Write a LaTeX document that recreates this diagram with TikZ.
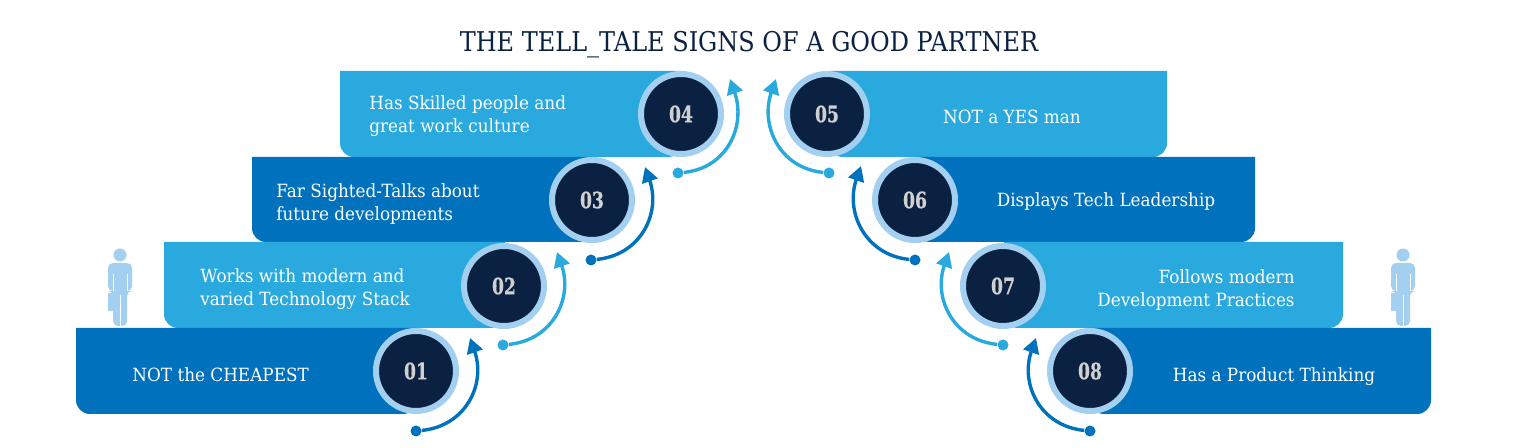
\documentclass[tikz,border=0pt]{standalone}
\usepackage{fontspec}
\setmainfont[FakeStretch=0.925]{DejaVu Serif}
\newfontfamily\titlefont[FakeStretch=0.882]{DejaVu Serif}
\newfontfamily\numfont[FakeStretch=0.76,FakeBold=0.4]{DejaVu Serif Bold}
\usetikzlibrary{calc,positioning,arrows.meta}
\definecolor{deepblue}{RGB}{0,113,188}
\definecolor{skyblue}{RGB}{41,169,222}
\definecolor{navy}{RGB}{11,33,66}
\definecolor{ringblue}{RGB}{163,207,240}
\definecolor{numgrey}{RGB}{208,208,208}

\begin{document}
\begin{tikzpicture}[x=0.5pt, y=-0.5pt,
    num/.style={circle, draw=ringblue, fill=navy, line width=3pt, minimum size=40pt, inner sep=0pt,
        text=numgrey, font=\numfont\fontsize{11.3}{12}\selectfont},
    label/.style={text=white, font=\fontsize{9.1}{11.2}\selectfont, align=left, inner sep=0pt},
    dot/.style={circle, minimum size=5.5pt, inner sep=0pt},
    link/.style={line width=1.7pt, -{Triangle[length=7.5pt,width=8pt]}},
    employee/.pic={
        \fill[ringblue] (0,-71) circle (6.5);
        \fill[ringblue, rounded corners=2.5pt] (-12,-63) -- (12,-63) -- (12,-35) -- (7,-35) -- (7,0) -- (-7,0) -- (-7,-35) -- (-12,-35) -- cycle;
        \fill[ringblue] (-12,-33) rectangle (-7,-15);
        \draw[white, line width=0.25pt] (0,-31) -- (0,0);
        \draw[white, line width=0.25pt] (-7,-52) -- (-7,-35);
        \draw[white, line width=0.25pt] (7,-52) -- (7,-35);
    }
]
\useasboundingbox (0,0) rectangle (1517,448);

\node[font=\titlefont\fontsize{13.6}{16}\selectfont, text=navy, inner sep=0pt, anchor=base] (title) at (749,52) {THE TELL\_TALE SIGNS OF A GOOD PARTNER};

% left stairs
\fill[skyblue] (682,71) -- (340,71) [rounded corners=7pt] -- (340,157) -- (682,157) [sharp corners] -- cycle;
\fill[deepblue] (593,157) -- (252,157) [rounded corners=7pt] -- (252,242) -- (593,242) [sharp corners] -- cycle;
\fill[skyblue] (505,242) -- (164,242) [rounded corners=7pt] -- (164,328) -- (505,328) [sharp corners] -- cycle;
\fill[deepblue] (417,328) -- (76,328) [rounded corners=7pt] -- (76,414) -- (417,414) [sharp corners] -- cycle;

% right stairs
\fill[skyblue] (829,71) -- (1167,71) [rounded corners=7pt] -- (1167,157) -- (829,157) [sharp corners] -- cycle;
\fill[deepblue] (916,157) -- (1255,157) [rounded corners=7pt] -- (1255,242) -- (916,242) [sharp corners] -- cycle;
\fill[skyblue] (1004,242) -- (1343,242) [rounded corners=7pt] -- (1343,328) -- (1004,328) [sharp corners] -- cycle;
\fill[deepblue] (1090,328) -- (1431,328) [rounded corners=7pt] -- (1431,414) -- (1090,414) [sharp corners] -- cycle;

\node[num] (N1) at (416,371) {\raisebox{-1.2pt}{01}};
\node[num] (N2) at (504,286) {\raisebox{-1pt}{02}};
\node[num] (N3) at (592,200) {03};
\node[num] (N4) at (681,114) {04};
\node[num] (N5) at (827,114) {05};
\node[num] (N6) at (915,200) {06};
\node[num] (N7) at (1003,286) {\raisebox{-0.6pt}{07}};
\node[num] (N8) at (1090,371) {\raisebox{-1.2pt}{08}};

\node[label, anchor=west] (L1) at (132,375) {NOT the CHEAPEST};
\node[label, anchor=west] (L2) at (200,289) {Works with modern and\\varied Technology Stack};
\node[label, anchor=west] (L3) at (276,204) {Far Sighted-Talks about\\future developments};
\node[label, anchor=west] (L4) at (369,116) {Has Skilled people and\\great work culture};
\node[label] (L5) at (1012,117) {NOT a YES man};
\node[label] (L6) at (1106,202) {Displays Tech Leadership};
\node[label, align=right, anchor=east] (L7) at (1295,290) {Follows modern\\Development Practices};
\node[label] (L8) at (1274,377) {Has a Product Thinking};

\node[dot, fill=deepblue] (D1) at (416,431) {};
\node[dot, fill=skyblue] (D2) at (503,345) {};
\node[dot, fill=deepblue] (D3) at (591,260) {};
\node[dot, fill=skyblue] (D4) at (678,173) {};
\node[dot, fill=skyblue] (D5) at (829,173) {};
\node[dot, fill=deepblue] (D6) at (915,260) {};
\node[dot, fill=skyblue] (D7) at (1003,345) {};
\node[dot, fill=deepblue] (D8) at (1090,431) {};

\coordinate (T1) at (470,338);
\coordinate (T2) at (557,252);
\coordinate (T3) at (645,167);
\coordinate (T4) at (730,79);
\coordinate (T5) at (776,79);
\coordinate (T6) at (861,166);
\coordinate (T7) at (949,252);
\coordinate (T8) at (1036,338);

\draw[link, deepblue] (D1) .. controls ($(D1)+(50,-5)$) and ($(T1)+(16,46)$) .. (T1);
\draw[link, skyblue] (D2) .. controls ($(D2)+(50,-5)$) and ($(T2)+(16,46)$) .. (T2);
\draw[link, deepblue] (D3) .. controls ($(D3)+(50,-5)$) and ($(T3)+(16,46)$) .. (T3);
\draw[link, skyblue] (D4) .. controls ($(D4)+(50,-5)$) and ($(T4)+(16,46)$) .. (T4);
\draw[link, skyblue] (D5) .. controls ($(D5)+(-50,-5)$) and ($(T5)+(-16,46)$) .. (T5);
\draw[link, deepblue] (D6) .. controls ($(D6)+(-50,-5)$) and ($(T6)+(-16,46)$) .. (T6);
\draw[link, skyblue] (D7) .. controls ($(D7)+(-50,-5)$) and ($(T7)+(-16,46)$) .. (T7);
\draw[link, deepblue] (D8) .. controls ($(D8)+(-50,-5)$) and ($(T8)+(-16,46)$) .. (T8);

% people
\pic at (120,326) {employee};
\pic at (1403,326) {employee};

\end{tikzpicture}
\end{document}
